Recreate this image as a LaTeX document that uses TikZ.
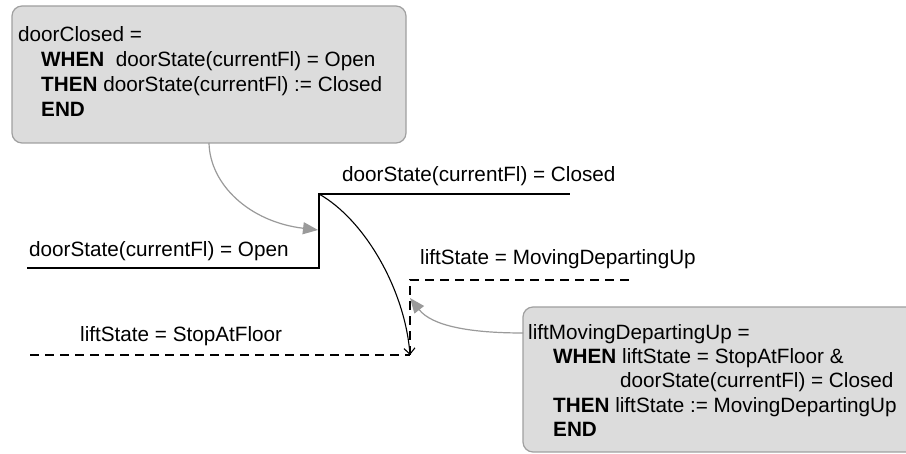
\documentclass[tikz,border=0pt]{standalone}
\usepackage{fontspec}
\setmainfont{Liberation Sans}
\usetikzlibrary{arrows.meta}
\definecolor{boxfill}{HTML}{DCDCDC}
\definecolor{boxline}{HTML}{A0A0A0}
\definecolor{linkgray}{HTML}{9A9A9A}
\tikzset{
  txt/.style={anchor=base west, inner sep=0pt, font=\fontsize{20.7}{25}\selectfont},
  eventbox/.style={draw=boxline, fill=boxfill, line width=1.2pt, rounded corners=10pt},
  signal/.style={line width=1.3pt, black},
  dsignal/.style={black, line width=1.05pt, dash pattern=on 9pt off 6pt},
  link/.style={draw=linkgray, line width=1.2pt, -{Triangle[length=15pt,width=12pt]}, fill=none},
  causal/.style={black, line width=1.1pt, -{Straight Barb[length=6pt,width=11pt]}}
}
\begin{document}
\begin{tikzpicture}[x=1pt,y=-1pt]
\clip (0,0) rectangle (906,454);
\fill[white] (0,0) rectangle (906,454);

% event boxes
\draw[eventbox] (12,6) rectangle (406,143);
\coordinate (b1bot) at (209,143);
\draw[eventbox] (523,307) rectangle (930,452);
\coordinate (b2left) at (523,333);

% doorClosed event
\node[txt] (dc1) at (18,42) {doorClosed =};
\node[txt] (dc2) at (41,67) {\textbf{WHEN}\ \ doorState(currentFl) = Open};
\node[txt] (dc3) at (41,92) {\textbf{THEN} doorState(currentFl) := Closed};
\node[txt] (dc4) at (41,117) {\textbf{END}};

% liftMovingDepartingUp event
\node[txt] (lm1) at (528,340) {liftMovingDepartingUp =};
\node[txt] (lm2) at (553,364) {\textbf{WHEN} liftState = StopAtFloor \&};
\node[txt] (lm3) at (620,388) {doorState(currentFl) = Closed};
\node[txt] (lm4) at (553,413) {\textbf{THEN} liftState := MovingDepartingUp};
\node[txt] (lm5) at (553,437) {\textbf{END}};

% door state signal
\coordinate (dA) at (27,268);
\coordinate (dB) at (319,268);
\coordinate (dC) at (319,194);
\coordinate (dD) at (570,194);
\draw[signal] (dA) -- (dB) -- (dC) -- (dD);
\node[txt] (dOpen) at (29,257) {doorState(currentFl) = Open};
\node[txt] (dClosed) at (342,182) {doorState(currentFl) = Closed};

% lift state signal
\coordinate (lA) at (30,355);
\coordinate (lB) at (410,355);
\coordinate (lC) at (410,280);
\coordinate (lD) at (630,280);
\draw[dsignal] (lA) -- (lB);
\draw[dsignal] (lB) -- (lC) -- (lD);
\node[txt] (lStop) at (80,342) {liftState = StopAtFloor};
\node[txt] (lUp) at (420,265) {liftState = MovingDepartingUp};

% causality between the two signals
\draw[causal] (dC) .. controls (365,220) and (405,290) .. (lB);

% events triggering the transitions
\coordinate (t1) at (318,230);
\coordinate (t2) at (410,298);
\draw[link] (b1bot) .. controls (210,185) and (250,222) .. (t1);
\draw[link] (b2left) .. controls (470,333) and (432,326) .. (t2);
\end{tikzpicture}
\end{document}
